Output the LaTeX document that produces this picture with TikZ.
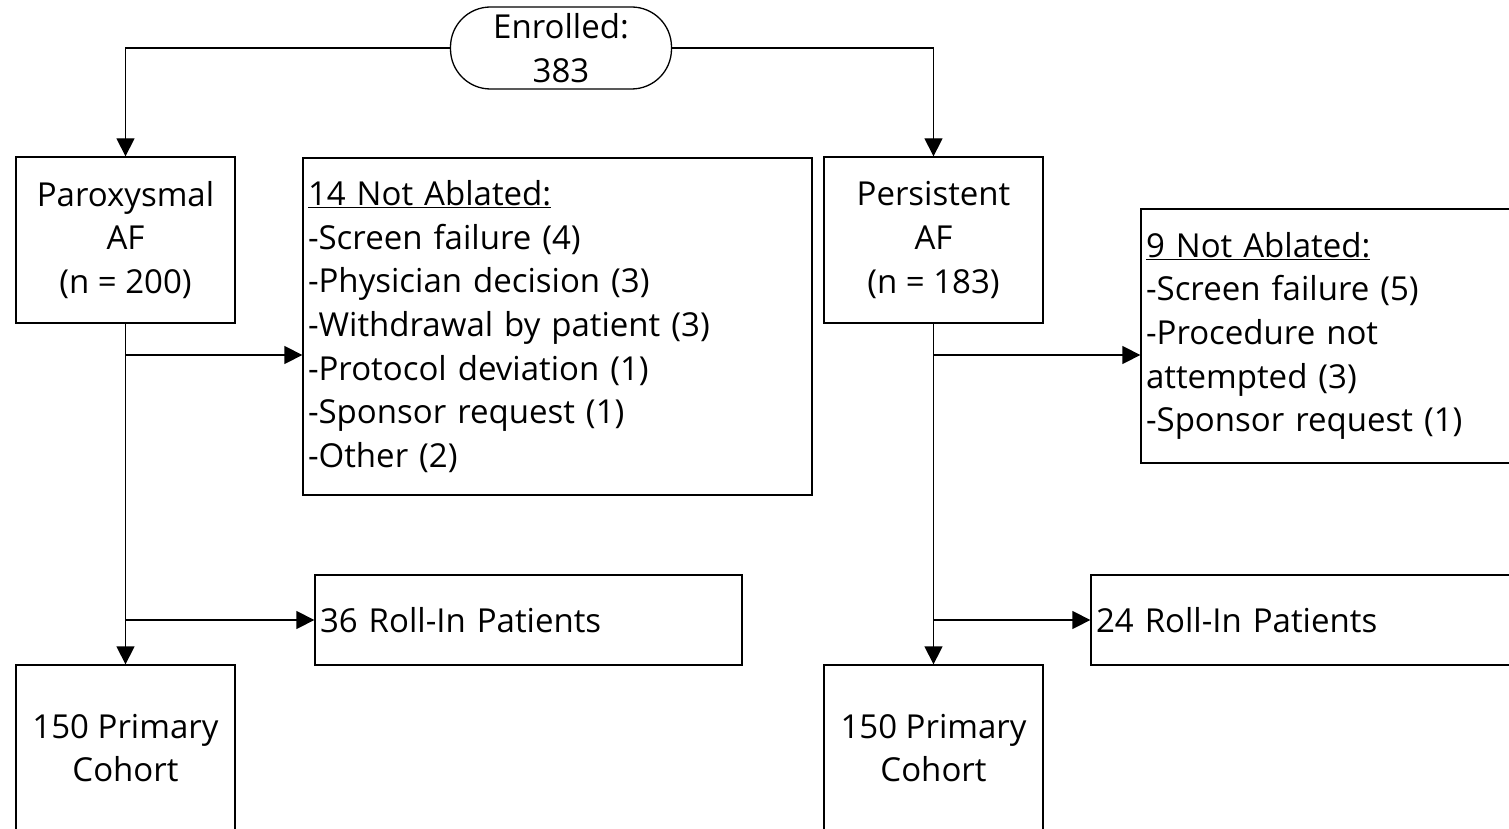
\documentclass[tikz,border=0pt]{standalone}
\usepackage{fontspec}
\setmainfont{Open Sans}
\usetikzlibrary{arrows.meta}
\begin{document}
\begin{tikzpicture}[x=1pt,y=-1pt,
  every node/.style={font=\fontsize{33}{43.7}\selectfont, line width=1.3pt},
  box/.style={draw, rectangle, align=center, minimum width=219pt, minimum height=166pt, inner sep=0pt},
  listbox/.style={draw, rectangle, align=left, inner xsep=5pt, inner ysep=0pt},
  term/.style={draw, rectangle, rounded corners=40pt, align=center, minimum width=221pt, minimum height=82pt, inner sep=0pt},
  arr/.style={line width=1.3pt, -{Triangle[length=18pt,width=18pt]}},
  conn/.style={line width=1.3pt}]
\useasboundingbox (0,0) rectangle (1509,829);
\clip (0,0) rectangle (1509,829);

% enrollment and the two arms
\node[term] (enr) at (561,48) {Enrolled:\\383};
\node[box] (parox) at (125.5,240) {Paroxysmal\\AF\\(n = 200)};
\node[box] (pers) at (933.5,240) {Persistent\\AF\\(n = 183)};

% exclusions
\node[listbox, text width=499pt, minimum height=337pt] (na1) at (557.5,326.5)
  {\underline{14 Not Ablated:}\\-Screen failure (4)\\-Physician decision (3)\\-Withdrawal by patient (3)\\-Protocol deviation (1)\\-Sponsor request (1)\\-Other (2)};
\node[listbox, text width=364pt, minimum height=254pt] (na2) at (1328,336)
  {\underline{9 Not Ablated:}\\-Screen failure (5)\\-Procedure not\\attempted (3)\\-Sponsor request (1)};

% roll-in patients
\node[listbox, text width=417pt, minimum height=90pt] (roll1) at (528.5,620) {36 Roll-In Patients};
\node[listbox, text width=417pt, minimum height=90pt] (roll2) at (1304.5,620) {24 Roll-In Patients};

% primary cohorts
\node[box] (prim1) at (125.5,748) {150 Primary\\Cohort};
\node[box] (prim2) at (933.5,748) {150 Primary\\Cohort};

% connectors
\draw[arr] (enr.west) -| (parox.north);
\draw[arr] (enr.east) -| (pers.north);
\draw[arr] (parox.south) -- (prim1.north);
\draw[arr] (pers.south) -- (prim2.north);
\coordinate (b1) at (parox.south |- 0,355);
\coordinate (b2) at (parox.south |- 0,620);
\coordinate (b3) at (pers.south |- 0,355);
\coordinate (b4) at (pers.south |- 0,620);
\draw[arr] (b1) -- (na1.west |- b1);
\draw[arr] (b2) -- (roll1.west);
\draw[arr] (b3) -- (na2.west |- b3);
\draw[arr] (b4) -- (roll2.west);
\end{tikzpicture}
\end{document}
